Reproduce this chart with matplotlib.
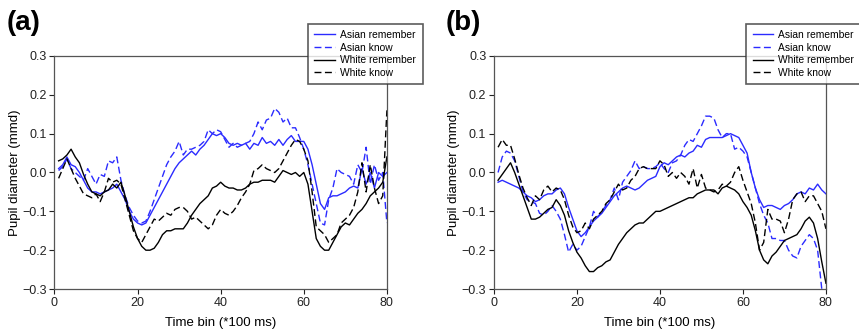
import numpy as np
import matplotlib
matplotlib.use("Agg")
import matplotlib.pyplot as plt
from matplotlib.ticker import FuncFormatter

plt.rcParams['font.family'] = ['Liberation Sans', 'DejaVu Sans']

time_bins = list(range(1, 81))

# Panel (a)
a_asian_remember = [0.01, 0.02, 0.04, 0.02, 0.015, 0.0, -0.02, -0.04, -0.05, -0.05,
                    -0.055, -0.05, -0.045, -0.04, -0.03, -0.05, -0.07, -0.10, -0.12, -0.13,
                    -0.135, -0.13, -0.11, -0.09, -0.07, -0.05, -0.03, -0.01, 0.01, 0.025,
                    0.035, 0.045, 0.055, 0.045, 0.06, 0.07, 0.085, 0.1, 0.095, 0.1,
                    0.09, 0.075, 0.07, 0.075, 0.07, 0.075, 0.06, 0.075, 0.07, 0.09,
                    0.075, 0.08, 0.07, 0.085, 0.07, 0.085, 0.095, 0.08, 0.08, 0.08,
                    0.06, 0.02, -0.03, -0.08, -0.095, -0.065, -0.06, -0.06, -0.055, -0.05,
                    -0.04, -0.035, -0.04, 0.01, -0.03, 0.0, -0.04, 0.0, -0.01, 0.0]
a_asian_know = [0.005, 0.015, 0.035, 0.01, 0.0, -0.01, -0.02, 0.01, -0.01, -0.03,
                -0.005, -0.01, 0.03, 0.025, 0.04, -0.02, -0.06, -0.09, -0.11, -0.125,
                -0.13, -0.125, -0.1, -0.07, -0.04, -0.01, 0.02, 0.04, 0.055, 0.08,
                0.045, 0.06, 0.06, 0.065, 0.07, 0.08, 0.11, 0.1, 0.11, 0.105,
                0.085, 0.065, 0.075, 0.065, 0.07, 0.075, 0.08, 0.1, 0.13, 0.11,
                0.135, 0.14, 0.165, 0.155, 0.13, 0.14, 0.115, 0.115, 0.09, 0.06,
                0.02, -0.03, -0.08, -0.13, -0.135, -0.07, -0.04, 0.01, 0.0, -0.005,
                -0.01, -0.03, 0.02, 0.0, 0.065, -0.03, 0.02, -0.02, 0.0, -0.13]
a_white_remember = [0.03, 0.035, 0.045, 0.06, 0.04, 0.025, -0.005, -0.03, -0.05, -0.055,
                    -0.06, -0.05, -0.045, -0.03, -0.04, -0.025, -0.06, -0.1, -0.14, -0.17,
                    -0.19, -0.2, -0.2, -0.195, -0.18, -0.16, -0.15, -0.15, -0.145, -0.145,
                    -0.145, -0.13, -0.11, -0.095, -0.08, -0.07, -0.06, -0.04, -0.035, -0.025,
                    -0.035, -0.04, -0.04, -0.045, -0.045, -0.04, -0.03, -0.025, -0.025, -0.02,
                    -0.02, -0.02, -0.025, -0.01, 0.005, 0.0, -0.005, 0.0, -0.01, 0.0,
                    -0.03, -0.1, -0.17, -0.19, -0.2, -0.2, -0.18, -0.16, -0.14, -0.13,
                    -0.135, -0.12, -0.105, -0.095, -0.08, -0.06, -0.05, -0.04, -0.025, 0.04]
a_white_know = [-0.015, 0.01, 0.035, 0.01, -0.015, -0.035, -0.055, -0.06, -0.065, -0.055,
                -0.075, -0.05, -0.015, -0.025, -0.02, -0.03, -0.07, -0.11, -0.15, -0.17,
                -0.18, -0.16, -0.14, -0.12, -0.125, -0.115, -0.105, -0.11, -0.095, -0.09,
                -0.09, -0.1, -0.12, -0.115, -0.125, -0.135, -0.145, -0.135, -0.11, -0.095,
                -0.105, -0.11, -0.1, -0.085, -0.065, -0.05, -0.03, 0.005, 0.01, 0.02,
                0.01, 0.005, 0.0, 0.01, 0.03, 0.05, 0.07, 0.085, 0.08, 0.06,
                0.03, -0.05, -0.14, -0.15, -0.16, -0.18, -0.17, -0.16, -0.13, -0.12,
                -0.11, -0.09, -0.05, 0.025, -0.05, 0.02, -0.04, -0.08, -0.06, 0.16]

# Panel (b)
b_asian_remember = [-0.025, -0.02, -0.025, -0.03, -0.035, -0.04, -0.05, -0.06, -0.065, -0.075,
                    -0.07, -0.06, -0.055, -0.055, -0.045, -0.04, -0.055, -0.09, -0.12, -0.15,
                    -0.165, -0.155, -0.14, -0.125, -0.115, -0.105, -0.09, -0.075, -0.06, -0.05,
                    -0.04, -0.035, -0.04, -0.045, -0.04, -0.03, -0.02, -0.015, -0.01, 0.015,
                    0.025, 0.02, 0.03, 0.04, 0.045, 0.04, 0.05, 0.055, 0.07, 0.065,
                    0.085, 0.09, 0.09, 0.09, 0.09, 0.095, 0.1, 0.095, 0.09, 0.07,
                    0.05, 0.0, -0.04, -0.07, -0.09, -0.085, -0.085, -0.09, -0.095, -0.085,
                    -0.08, -0.07, -0.055, -0.05, -0.055, -0.04, -0.045, -0.03, -0.045, -0.055]
b_asian_know = [0.0, 0.04, 0.055, 0.05, 0.03, -0.01, -0.05, -0.07, -0.075, -0.08,
                -0.105, -0.11, -0.1, -0.085, -0.1, -0.12, -0.16, -0.205, -0.185, -0.2,
                -0.19, -0.165, -0.14, -0.1, -0.115, -0.1, -0.085, -0.07, -0.04, -0.07,
                -0.025, -0.01, 0.005, 0.03, 0.01, 0.015, 0.01, 0.01, 0.015, 0.025,
                0.01, 0.0, 0.025, 0.03, 0.045, 0.07, 0.085, 0.08, 0.1, 0.12,
                0.145, 0.145, 0.14, 0.11, 0.09, 0.1, 0.1, 0.06, 0.065, 0.055,
                0.04, 0.0, -0.04, -0.08, -0.11, -0.13, -0.17, -0.17, -0.175, -0.175,
                -0.2, -0.215, -0.22, -0.19, -0.175, -0.16, -0.17, -0.2, -0.3, -0.33]
b_white_remember = [-0.02, -0.005, 0.01, 0.025, 0.0, -0.03, -0.06, -0.09, -0.12, -0.12,
                    -0.115, -0.105, -0.095, -0.09, -0.07, -0.085, -0.11, -0.15, -0.18, -0.205,
                    -0.22, -0.24, -0.255, -0.255, -0.245, -0.24, -0.23, -0.225, -0.205, -0.185,
                    -0.17, -0.155, -0.145, -0.135, -0.13, -0.13, -0.12, -0.11, -0.1, -0.1,
                    -0.095, -0.09, -0.085, -0.08, -0.075, -0.07, -0.065, -0.065, -0.055, -0.05,
                    -0.045, -0.045, -0.045, -0.055, -0.04, -0.035, -0.04, -0.045, -0.055, -0.075,
                    -0.09, -0.11, -0.15, -0.2, -0.225, -0.235, -0.215, -0.205, -0.19, -0.175,
                    -0.17, -0.165, -0.16, -0.145, -0.125, -0.115, -0.13, -0.17, -0.23, -0.285]
b_white_know = [0.065, 0.085, 0.07, 0.07, 0.035, -0.005, -0.04, -0.065, -0.085, -0.06,
                -0.07, -0.045, -0.035, -0.05, -0.04, -0.045, -0.07, -0.11, -0.14, -0.155,
                -0.15, -0.13, -0.145, -0.12, -0.11, -0.1, -0.08, -0.07, -0.05, -0.03,
                -0.045, -0.04, -0.02, -0.01, 0.01, 0.015, 0.01, 0.01, 0.01, 0.03,
                0.02, -0.01, 0.0, -0.015, 0.0, -0.01, -0.03, 0.01, -0.04, -0.005,
                -0.04, -0.045, -0.05, -0.045, -0.03, -0.035, -0.025, 0.0, 0.015, -0.02,
                -0.05, -0.08, -0.13, -0.2, -0.18, -0.095, -0.12, -0.12, -0.125, -0.155,
                -0.12, -0.07, -0.055, -0.05, -0.075, -0.06, -0.06, -0.08, -0.1, -0.145]

series_labels = ["Asian remember", "Asian know", "White remember", "White know"]
x_ticks = [0, 20, 40, 60, 80]
y_ticks = [-0.3, -0.2, -0.1, 0.0, 0.1, 0.2, 0.3]

BLUE = "#2b2bff"
styles = [dict(color=BLUE, ls="-"), dict(color=BLUE, ls=(0, (5, 2.5))),
          dict(color="black", ls="-"), dict(color="black", ls=(0, (5, 2.5)))]

fig = plt.figure(figsize=(8.59, 3.33), dpi=100)
panels = [
    ("(a)", [0.0634, 0.132, 0.387, 0.700], [a_asian_remember, a_asian_know, a_white_remember, a_white_know],
     (0.3585, 0.748)),
    ("(b)", [0.5750, 0.132, 0.3865, 0.700], [b_asian_remember, b_asian_know, b_white_remember, b_white_know],
     (0.8690, 0.748)),
]

fmt = FuncFormatter(lambda v, p: ("\u2212%.1f" % abs(v)) if v < -1e-9 else "%.1f" % abs(v))

for label, rect, data, leg_pos in panels:
    ax = fig.add_axes(rect)
    handles = []
    for ser, st, name in zip(data, styles, series_labels):
        h, = ax.plot(time_bins, ser, color=st["color"], linestyle=st["ls"], lw=1.0, label=name)
        handles.append(h)
    ax.set_xlim(0, 80)
    ax.set_ylim(-0.3, 0.3)
    ax.set_xticks(x_ticks)
    ax.set_yticks(y_ticks)
    ax.yaxis.set_major_formatter(fmt)
    ax.tick_params(direction="out", length=3.5, width=0.8, labelsize=9, colors="#222222", pad=2)
    ax.tick_params(top=False, right=False)
    for s in ax.spines.values():
        s.set_color("#555555")
        s.set_linewidth(0.9)
    ax.set_xlabel("Time bin (*100 ms)", fontsize=9.5, labelpad=6)
    ax.set_ylabel("Pupil diameter (mmd)", fontsize=9.5, labelpad=1)
    # panel label
    fig.text(rect[0] - 0.056, 0.93, label, fontsize=20, fontweight="bold", ha="left", va="center")
    # legend box
    leg = fig.legend(handles=handles, loc="lower left", bbox_to_anchor=(leg_pos[0], leg_pos[1], 0.134, 0.174),
                     mode="expand", fontsize=7.4, frameon=True, fancybox=False, borderaxespad=0,
                     handlelength=2.0, handletextpad=0.5, labelspacing=0.25, borderpad=0.6)
    leg.get_frame().set_edgecolor("#333333")
    leg.get_frame().set_linewidth(1.2)

fig.savefig("out.png", dpi=100)
